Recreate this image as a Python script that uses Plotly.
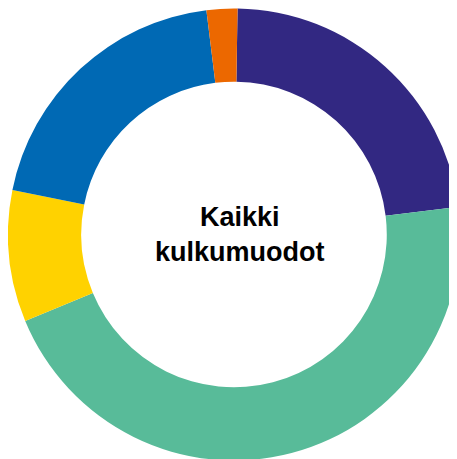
import plotly.graph_objects as go

# kulkumuotojen osuudet (%)
labels = ['Purple', 'Green', 'Yellow', 'Blue', 'Orange']
values = [22.8, 45.7, 9.4, 19.9, 2.2]
colors = ['#322882', '#58BB99', '#FFD200', '#0069B4', '#EC6800']
center_text = 'Kaikki<br>kulkumuodot'

fig = go.Figure(go.Pie(
    labels=labels,
    values=values,
    marker=dict(colors=colors, line=dict(width=0)),
    hole=0.676,
    sort=False,
    direction='clockwise',
    rotation=0.9,
    textinfo='none',
    hoverinfo='label+percent',
    domain=dict(x=[0, 1], y=[0, 1]),
))

fig.add_annotation(
    text='<b>' + center_text + '</b>',
    x=0.513, y=0.499, xref='paper', yref='paper',
    showarrow=False,
    font=dict(family='Liberation Sans, Arial, sans-serif', size=27, color='#000000'),
)

fig.update_layout(
    width=452, height=453,
    margin=dict(l=0, r=0, t=0, b=0),
    showlegend=False,
    paper_bgcolor='white',
    plot_bgcolor='white',
)
fig.write_html('out.html')
